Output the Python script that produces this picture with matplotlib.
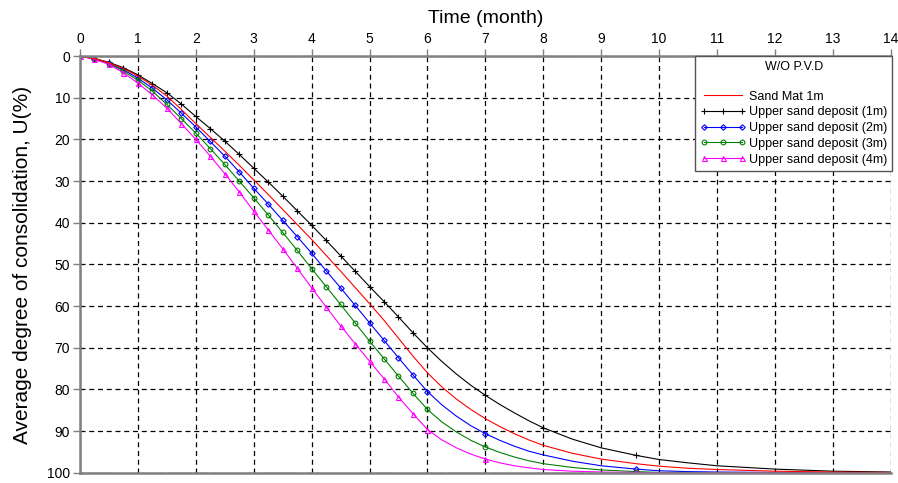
import matplotlib
matplotlib.use("Agg")
import matplotlib.pyplot as plt
import numpy as np

plt.rcParams["font.family"] = ["Liberation Sans", "DejaVu Sans"]

# elapsed time (month) shared by all curves
months = [0, 0.25, 0.5, 0.75, 1, 1.25, 1.5, 1.75, 2, 2.25, 2.5, 2.75, 3, 3.25, 3.5,
          3.75, 4, 4.25, 4.5, 4.75, 5, 5.25, 5.5, 5.75, 6, 6.25, 6.5, 6.75, 7, 7.25,
          7.5, 7.75, 8, 8.5, 9, 9.6, 10, 10.5, 11, 12, 13, 14]

# average degree of consolidation U(%)
sand_mat_1m = [0, 0.6, 1.6, 3.0, 4.8, 7.0, 9.6, 12.8, 16.2, 19.5, 22.8, 26.2, 29.7, 33.2,
               36.8, 40.4, 44.0, 47.8, 51.6, 55.5, 59.4, 63.4, 67.7, 72.0, 76.0, 79.4,
               82.3, 84.8, 87.0, 88.9, 90.6, 92.1, 93.4, 95.3, 96.7, 97.8, 98.4, 98.9,
               99.2, 99.6, 99.8, 99.9]
upper_1m = [0, 0.6, 1.5, 2.8, 4.5, 6.6, 8.8, 11.5, 14.5, 17.4, 20.4, 23.6, 26.9, 30.2,
            33.6, 37.1, 40.6, 44.2, 47.9, 51.6, 55.3, 58.9, 62.6, 66.4, 70.0, 73.3,
            76.3, 79.0, 81.4, 83.6, 85.6, 87.5, 89.2, 91.9, 94.0, 95.8, 96.8, 97.6,
            98.3, 99.1, 99.6, 99.8]
upper_2m = [0, 0.7, 1.7, 3.3, 5.3, 7.7, 10.5, 13.7, 17.0, 20.5, 24.0, 27.8, 31.7, 35.5,
            39.4, 43.3, 47.3, 51.5, 55.6, 59.8, 64.0, 68.2, 72.4, 76.5, 80.5, 83.7,
            86.4, 88.7, 90.6, 92.2, 93.6, 94.8, 95.7, 97.2, 98.3, 99.1, 99.5, 99.7,
            99.8, 99.9, 100, 100]
upper_3m = [0, 0.7, 1.8, 3.6, 5.8, 8.4, 11.6, 15.0, 18.5, 22.2, 26.0, 30.0, 34.0, 38.1,
            42.3, 46.6, 51.0, 55.3, 59.6, 64.0, 68.4, 72.6, 76.8, 80.9, 84.8, 87.8,
            90.2, 92.2, 93.8, 95.1, 96.2, 97.1, 97.8, 98.7, 99.3, 99.7, 99.9, 99.9,
            100, 100, 100, 100]
upper_4m = [0, 0.8, 2.0, 4.0, 6.5, 9.3, 12.5, 16.2, 20.0, 24.0, 28.2, 32.6, 37.2, 41.7,
            46.2, 50.9, 55.6, 60.2, 64.7, 69.0, 73.2, 77.4, 81.8, 85.8, 89.6, 92.1,
            94.0, 95.5, 96.7, 97.6, 98.3, 98.8, 99.2, 99.6, 99.8, 99.9, 100, 100,
            100, 100, 100, 100]

# months after month 6 where measured points carry a marker
marked_months = [7, 9.6]
marked_months_1m = [7, 8, 9.6]

t = np.array(months)

fig, ax = plt.subplots(figsize=(8.98, 4.83), dpi=100)
fig.subplots_adjust(left=0.089, right=0.992, bottom=0.021, top=0.884)


def _marks(extra):
    return list(np.where((t <= 6) | np.isin(t, extra))[0])


h1, = ax.plot(t, upper_1m, color="black", lw=0.8, marker="+", ms=4.2, mew=0.8,
              markevery=_marks(marked_months_1m), label="Upper sand deposit (1m)")
h2, = ax.plot(t, upper_2m, color="#0000ff", lw=0.8, marker="D", ms=2.8, mew=0.8,
              mfc="none", markevery=_marks(marked_months), label="Upper sand deposit (2m)")
h3, = ax.plot(t, upper_3m, color="#008000", lw=0.8, marker="o", ms=3.4, mew=0.8,
              mfc="none", markevery=_marks(marked_months), label="Upper sand deposit (3m)")
h4, = ax.plot(t, upper_4m, color="#ff00ff", lw=0.8, marker="^", ms=3.6, mew=0.8,
              mfc="none", markevery=_marks(marked_months), label="Upper sand deposit (4m)")
h0, = ax.plot(t, sand_mat_1m, color="red", lw=0.8, label="Sand Mat 1m")

ax.set_xlim(0, 14)
ax.set_ylim(100, 0)
ax.set_xticks(np.arange(0, 15, 1))
ax.set_yticks(np.arange(0, 101, 10))
ax.xaxis.tick_top()
ax.xaxis.set_label_position("top")
ax.tick_params(labelsize=10, length=5, width=1, color="#808080", pad=2)
ax.set_xlabel("Time (month)", fontsize=14, labelpad=7)
ax.set_ylabel("Average degree of consolidation, U(%)", fontsize=15, labelpad=11)

ax.grid(True, color="black", lw=0.9, linestyle=(0, (4, 3)))
for side in ["top", "left", "bottom"]:
    ax.spines[side].set_color("#808080")
    ax.spines[side].set_linewidth(1.8)
ax.spines["right"].set_visible(False)

leg = ax.legend(handles=[h0, h1, h2, h3, h4], loc="upper right",
                bbox_to_anchor=(1.002, 1.0), borderaxespad=0, fontsize=9,
                title="W/O P.V.D\n", title_fontsize=9, numpoints=3,
                handlelength=3.6, handletextpad=0.3, labelspacing=0.3,
                fancybox=False, framealpha=1, edgecolor="#555555")
leg.get_frame().set_linewidth(1.0)

fig.savefig("out.png", dpi=100)
plt.close(fig)
